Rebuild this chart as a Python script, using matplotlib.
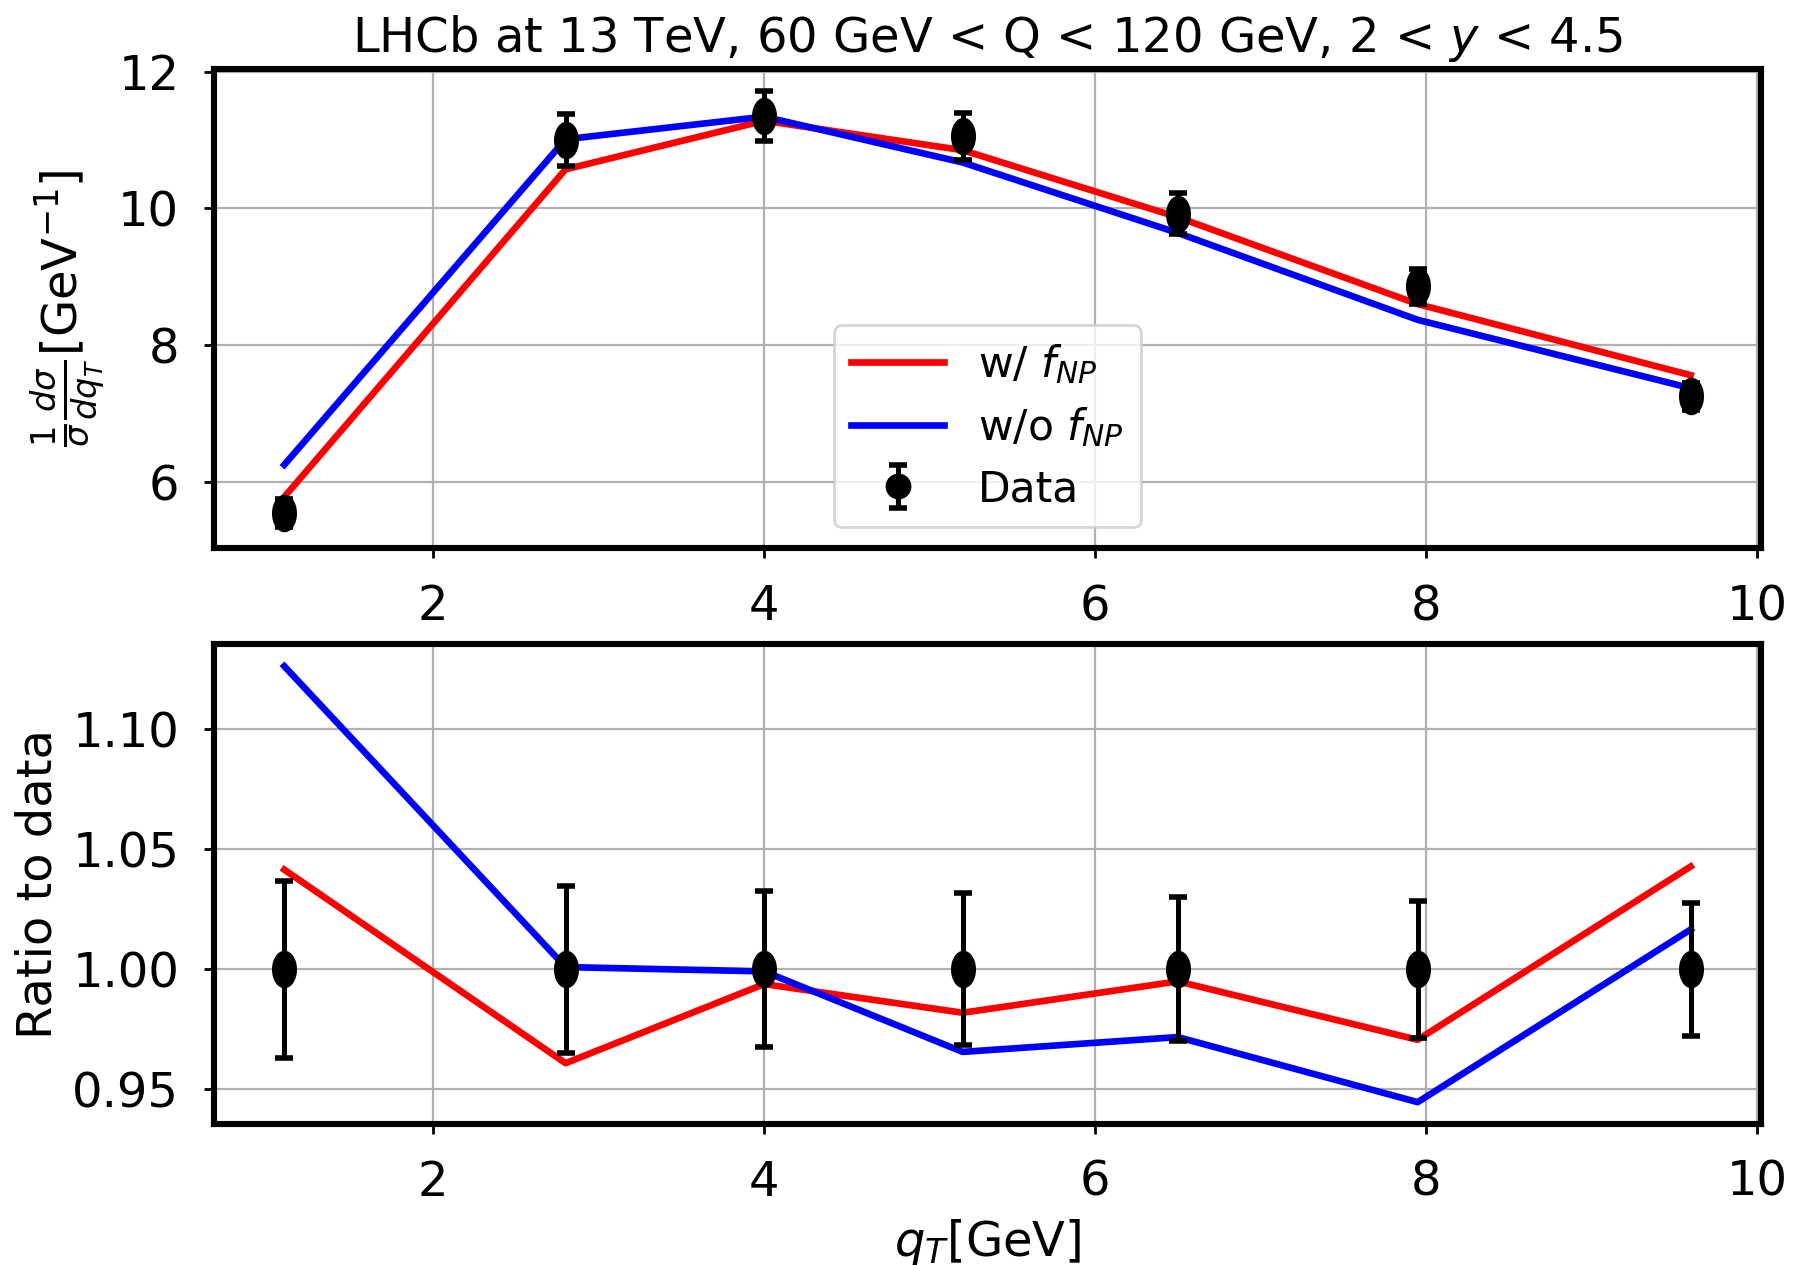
import numpy as np
import matplotlib
matplotlib.use("Agg")
import matplotlib.pyplot as plt
from matplotlib.path import Path

# ---- data ----
qT = [1.1, 2.8, 4.0, 5.2, 6.5, 7.95, 9.6]
data = [5.55, 11.00, 11.35, 11.05, 9.92, 8.86, 7.25]
data_err = [0.205, 0.382, 0.369, 0.349, 0.298, 0.253, 0.200]
pred_with_fnp = [5.78, 10.57, 11.28, 10.85, 9.87, 8.60, 7.56]
pred_without_fnp = [6.25, 11.01, 11.34, 10.67, 9.64, 8.37, 7.37]

title = r"LHCb at 13 TeV, 60 GeV < Q < 120 GeV, 2 < $y$ < 4.5"

plt.rcParams["font.family"] = ["DejaVu Sans"]
plt.rcParams["font.size"] = 17.3

x = np.array(qT)
d = np.array(data)
e = np.array(data_err)
p1 = np.array(pred_with_fnp)
p2 = np.array(pred_without_fnp)

t = np.linspace(0, 2 * np.pi, 80)
ell = Path(np.column_stack([0.64 * np.cos(t), np.sin(t)]), closed=True)

fig, (ax1, ax2) = plt.subplots(2, 1, figsize=(8.99, 6.325), dpi=200)
fig.subplots_adjust(left=0.119, right=0.9794, top=0.9455, bottom=0.1115, hspace=0.2)

lw = 2.4
ebkw = dict(fmt="o", color="black", ms=8.3, elinewidth=1.8, capsize=3.4, capthick=2.0, zorder=4)

# top panel
l1, = ax1.plot(x, p1, color="red", lw=lw, zorder=3)
l2, = ax1.plot(x, p2, color="blue", lw=lw, zorder=3)
ax1.errorbar(x, d, yerr=e, **{**ebkw, "ms": 0.1})
ax1.plot(x, d, ls="none", marker=ell, ms=12.5, color="black", zorder=5)
# legend proxy with round marker
proxy = ax1.errorbar([np.nan], [np.nan], yerr=[np.nan], **ebkw)
ax1.legend([l1, l2, proxy], [r"w/ $f_{NP}$", r"w/o $f_{NP}$", "Data"],
           loc="lower center", fontsize=15.3, labelspacing=0.45, handlelength=2.2)
ax1.set_title(title, fontsize=17.3)
ax1.set_ylabel(r"$\frac{1}{\sigma}\frac{d\sigma}{dq_T}$[GeV$^{-1}$]")
ax1.set_yticks([6, 8, 10, 12])

# ratio panel
ax2.plot(x, p1 / d, color="red", lw=lw, zorder=3)
ax2.plot(x, p2 / d, color="blue", lw=lw, zorder=3)
ax2.errorbar(x, d / d, yerr=e / d, **{**ebkw, "ms": 0.1})
ax2.plot(x, d / d, ls="none", marker=ell, ms=12.5, color="black", zorder=5)
ax2.set_ylabel("Ratio to data")
ax2.set_xlabel(r"$q_T$[GeV]")
ax2.set_yticks([0.95, 1.00, 1.05, 1.10])

for ax in (ax1, ax2):
    ax.set_xticks([2, 4, 6, 8, 10])
    ax.grid(True, color="#b0b0b0", lw=0.8)
    ax.set_axisbelow(True)
    for s in ax.spines.values():
        s.set_linewidth(2.2)
    ax.tick_params(length=3.5, width=1.0, pad=9, labelsize=17.3)

fig.savefig("out.png", dpi=200)
